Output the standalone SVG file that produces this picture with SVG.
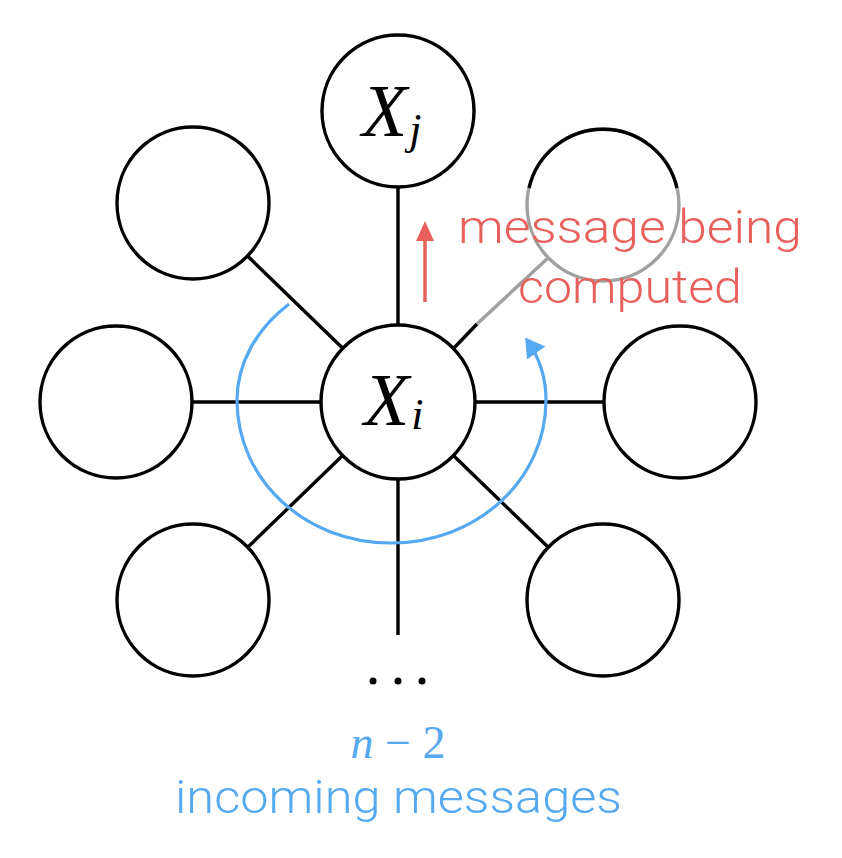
<svg xmlns="http://www.w3.org/2000/svg" width="842" height="858" viewBox="0 0 842 858">
<defs>
<style>
.node{fill:#fff;stroke:#000;stroke-width:3.4}
.edge{stroke:#000;stroke-width:3.4;fill:none}
.math{font-family:"Liberation Serif","Times New Roman",serif;font-style:italic}
.sans{font-family:"Roboto","Helvetica Neue","Liberation Sans",sans-serif;font-weight:300}
</style>
<marker id="blueHead" markerWidth="8" markerHeight="8" refX="5" refY="4" orient="auto" markerUnits="strokeWidth">
<path d="M0,0.5 L6,4 L0,7.5 Z" fill="#55a9f0"/>
</marker>
</defs>
<rect width="842" height="858" fill="#fff"/>
<g id="connectors">
<line class="edge" x1="398" y1="186" x2="398" y2="325"/>
<line class="edge" x1="247.5" y1="256" x2="343" y2="348.5"/>
<line class="edge" x1="453.5" y1="348.5" x2="477" y2="324"/>
<line x1="477" y1="324" x2="548" y2="258" stroke="#a0a0a0" stroke-width="3.4"/>
<line class="edge" x1="192" y1="402" x2="321" y2="402"/>
<line class="edge" x1="475" y1="402" x2="604" y2="402"/>
<line class="edge" x1="342.6" y1="455.5" x2="248" y2="547"/>
<line class="edge" x1="453.4" y1="455.5" x2="548" y2="547"/>
<line class="edge" x1="398" y1="479" x2="398" y2="635"/>
</g>
<g id="node-xj">
<circle class="node" cx="398" cy="111" r="76"/>
<text class="math" x="362" y="136" font-size="74">X<tspan font-size="44" dy="8" dx="2">j</tspan></text>
</g>
<g id="node-tl"><circle class="node" cx="193" cy="203" r="76"/></g>
<g id="node-tr">
<circle cx="603" cy="205" r="76" fill="#fff" stroke="#a0a0a0" stroke-width="3.4"/>
<path d="M529,188 A76,76 0 0 1 677,188" fill="none" stroke="#000" stroke-width="3.4"/>
</g>
<g id="node-l"><circle class="node" cx="116" cy="402" r="76"/></g>
<g id="node-r"><circle class="node" cx="680" cy="402" r="76"/></g>
<g id="node-bl"><circle class="node" cx="193" cy="600" r="76"/></g>
<g id="node-br"><circle class="node" cx="603" cy="600" r="76"/></g>
<g id="node-xi">
<circle class="node" cx="398" cy="402" r="77"/>
<text class="math" x="364" y="425" font-size="74">X<tspan font-size="44" dy="4" dx="2">i</tspan></text>
</g>
<g id="dots" fill="#000">
<circle cx="373" cy="681" r="3.5"/>
<circle cx="398" cy="681" r="3.5"/>
<circle cx="422" cy="681" r="3.5"/>
</g>
<g id="message-arrow">
<line x1="425" y1="302" x2="425" y2="238" stroke="#e8605c" stroke-width="3.5"/>
<polygon points="425,221 416,241 434,241" fill="#e8605c"/>
</g>
<g id="message-label">
<text class="sans" x="458" y="243" font-size="47" fill="#e8605c" textLength="344" lengthAdjust="spacingAndGlyphs">message being</text>
<text class="sans" x="518" y="303" font-size="47" fill="#e8605c" textLength="224" lengthAdjust="spacingAndGlyphs">computed</text>
</g>
<g id="incoming-arc">
<path d="M289,304 C255,330 237,365 237,400 C237,480 305,543 391,543 C477,543 546,480 546,400 C546,378 539,357 527,340" fill="none" stroke="#55a9f0" stroke-width="3.2" marker-end="url(#blueHead)"/>
</g>
<g id="incoming-label">
<text x="398" y="758" text-anchor="middle" fill="#55a9f0" font-size="46" font-family="'Liberation Serif','Times New Roman',serif"><tspan font-style="italic">n</tspan> − 2</text>
<text class="sans" x="175" y="813" font-size="46" fill="#55a9f0" textLength="447" lengthAdjust="spacingAndGlyphs">incoming messages</text>
</g>
</svg>
